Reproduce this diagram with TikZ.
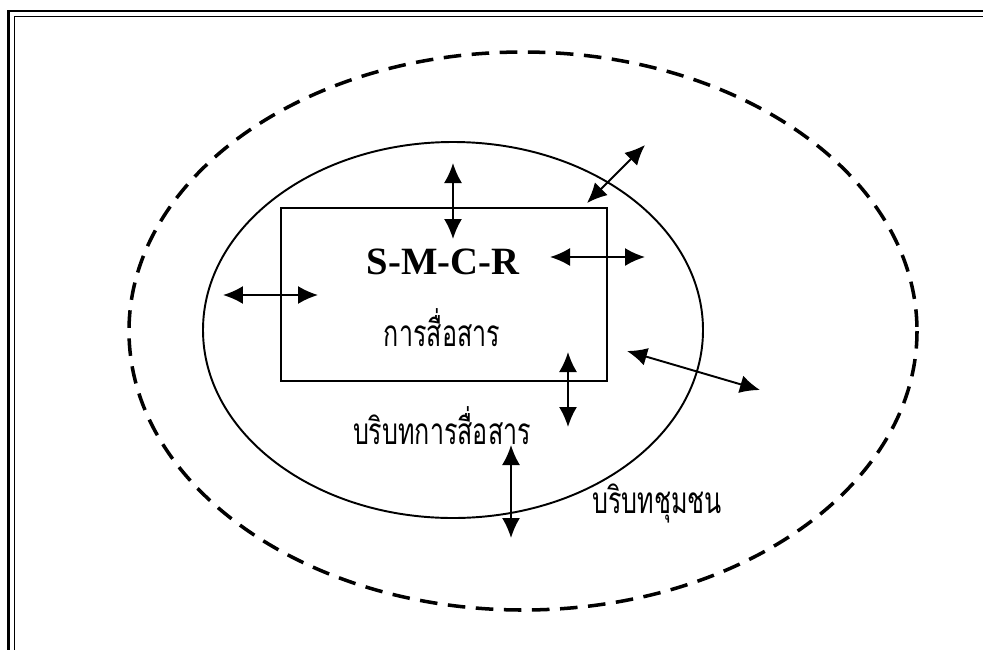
\documentclass[tikz,border=0pt]{standalone}
\usepackage{fontspec}
\setmainfont{Liberation Serif}
\newfontfamily\thaifont[Script=Thai]{Loma}
\usetikzlibrary{arrows.meta}

\tikzset{
  twoway/.style={{Latex[length=0.4cm,width=0.36cm]}-{Latex[length=0.4cm,width=0.36cm]}, line width=1.1pt},
  thaitext/.style={font=\thaifont\fontsize{21pt}{24pt}\selectfont, inner sep=0pt}
}
\newcommand{\narrow}[1]{\scalebox{0.68}[1]{#1}}

\begin{document}
\begin{tikzpicture}[x=0.02cm, y=-0.02cm]
  \useasboundingbox (0,0) rectangle (983,650);
  % frame, top and left only
  \draw[line width=1.4pt] (983,11) -- (8.5,11) -- (8.5,650);
  \draw[line width=0.9pt] (983,16.5) -- (14.5,16.5) -- (14.5,650);
  % community context
  \draw[line width=2pt, dash pattern=on 10pt off 6pt] (523,331) ellipse [x radius=394, y radius=279];
  % communication context
  \draw[line width=1.1pt] (453,330) ellipse [x radius=250, y radius=188];
  % S-M-C-R box
  \node[draw, line width=1.1pt, minimum width=326*0.02cm, minimum height=173*0.02cm] (box) at (444,294.5) {};
  \node[font=\bfseries\fontsize{22pt}{24pt}\selectfont, inner sep=0pt] (smcr) at (443,262) {S-M-C-R};
  \node[thaitext] (comm) at (442,328) {\narrow{การสื่อสาร}};
  \node[thaitext] (commctx) at (442,426) {\narrow{บริบทการสื่อสาร}};
  \node[thaitext] (community) at (657,503) {\narrow{บริบทชุมชน}};
  % arrow ends
  \coordinate (t1) at (453,163);  \coordinate (t2) at (453,239);
  \coordinate (d1) at (645,145);  \coordinate (d2) at (587,203);
  \coordinate (r1) at (550,257);  \coordinate (r2) at (645,257);
  \coordinate (l1) at (223,295);  \coordinate (l2) at (318,295);
  \coordinate (e1) at (627,351);  \coordinate (e2) at (760,390);
  \coordinate (v1) at (568,352);  \coordinate (v2) at (568,427);
  \coordinate (b1) at (511,445);  \coordinate (b2) at (511,538);
  \foreach \s/\e in {t1/t2, d1/d2, r1/r2, l1/l2, e1/e2, v1/v2, b1/b2}
    \draw[twoway] (\s) -- (\e);
\end{tikzpicture}
\end{document}
